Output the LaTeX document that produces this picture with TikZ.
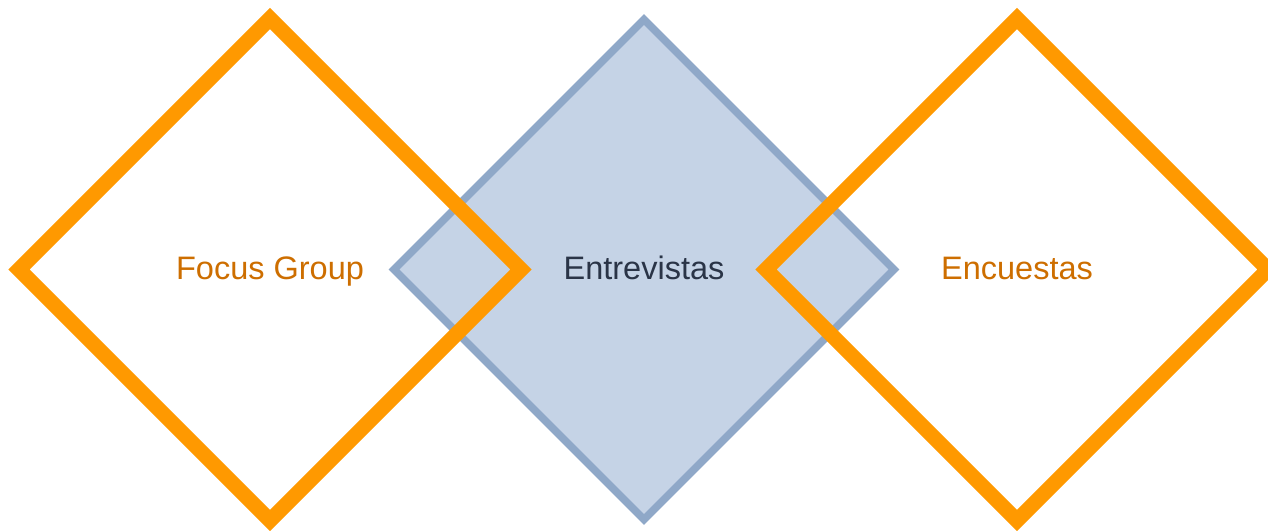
\documentclass[tikz,border=0pt]{standalone}
\usepackage{fontspec}
\setmainfont{Liberation Sans}
\definecolor{orangeline}{RGB}{255,153,0}
\definecolor{orangetext}{RGB}{205,110,0}
\definecolor{blueline}{RGB}{143,168,200}
\definecolor{bluefill}{RGB}{197,211,230}
\definecolor{darktext}{RGB}{42,52,71}
\tikzset{
  x=1pt, y=1pt,
  outerdia/.style={draw=orangeline, line width=15pt, miter limit=10},
  middia/.style={draw=blueline, fill=bluefill, line width=7.5pt, miter limit=10},
  lbl/.style={font=\fontsize{32.5}{38}\selectfont, inner sep=0pt, anchor=base}
}
\begin{document}
\begin{tikzpicture}
\useasboundingbox (0,0) rectangle (1268,530);
% middle diamond
\coordinate (m) at (644,250.7);
\draw[middia] (394,260.5) -- (644,510.5) -- (894,260.5) -- (644,10.5) -- cycle;
% left diamond
\coordinate (l) at (270,250.7);
\draw[outerdia] (19,260.5) -- (270,511.5) -- (521,260.5) -- (270,9.5) -- cycle;
% right diamond
\coordinate (r) at (1017,250.7);
\draw[outerdia] (766,260.5) -- (1017,511.5) -- (1268,260.5) -- (1017,9.5) -- cycle;
\node[lbl, text=orangetext] (tl) at (l) {Focus Group};
\node[lbl, text=darktext] (tm) at (m) {Entrevistas};
\node[lbl, text=orangetext] (tr) at (r) {Encuestas};
\end{tikzpicture}
\end{document}
